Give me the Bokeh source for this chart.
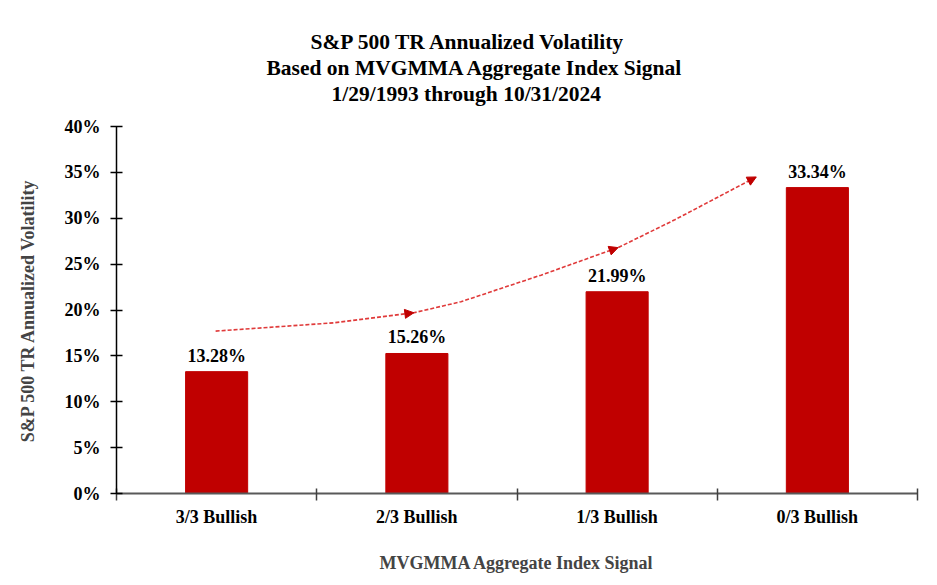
import bokeh.plotting
from bokeh.core.properties import value
from bokeh.embed import file_html
from bokeh.models import (Arrow, ColumnDataSource, FixedTicker, NormalHead,
                          PrintfTickFormatter, Range1d, Title)
from bokeh.resources import INLINE

# data
signals = ["3/3 Bullish", "2/3 Bullish", "1/3 Bullish", "0/3 Bullish"]
volatility = [13.28, 15.26, 21.99, 33.34]
vol_labels = ["13.28%", "15.26%", "21.99%", "33.34%"]
y_ticks = [0, 5, 10, 15, 20, 25, 30, 35, 40]

# dashed trend curve (category units, percent)
trend_x = [0.495, 1.085, 1.485, 1.72, 2.12, 2.505, 2.785, 3.195]
trend_y = [17.7, 18.6, 19.7, 20.9, 23.8, 26.8, 29.8, 34.5]
head_idx = [2, 5, 7]

title_lines = [
    "S&P 500 TR Annualized  Volatility",
    "Based on MVGMMA Aggregate  Index Signal",
    "1/29/1993 through  10/31/2024",
]

FONT = "Liberation Serif"
BAR = "#C00000"
TREND = "#E03A3A"

centers = [i + 0.5 for i in range(len(signals))]
src = ColumnDataSource(dict(x=centers, top=volatility, label=vol_labels))

p = bokeh.plotting.figure(
    width=921,
    height=575,
    x_range=Range1d(0, len(signals)),
    y_range=Range1d(0, 40),
    output_backend="svg",
    toolbar_location=None,
    title=None,
    min_border_left=116,
    min_border_right=4,
    min_border_bottom=81,
    min_border_top=126,
)
p.outline_line_color = None
p.xgrid.visible = False
p.ygrid.visible = False

# blank spacer between frame and title block
p.add_layout(Title(text=" ", text_font_size="1px", standoff=18), "above")

# title lines: left aligned with offsets so they sit centred on the figure
# (added bottom line first, the last one added is outermost)
for line, off in zip(reversed(title_lines), [215, 150, 194]):
    p.add_layout(
        Title(text=line, text_font=FONT, text_font_size="21.5px",
              text_font_style="bold", align="left", offset=off,
              standoff=0, text_color="black"),
        "above",
    )

p.vbar(source=src, x="x", top="top", width=0.31, fill_color=BAR, line_color=BAR)
p.text(source=src, x="x", y="top", text="label", text_align="center",
       text_baseline="bottom", y_offset=-6, text_font=value(FONT),
       text_font_size="18px", text_font_style="bold", text_color="black")

# trend curve with arrowheads
p.line(trend_x, trend_y, line_color=TREND, line_width=1.6, line_dash="4 2")
for i in head_idx:
    p.add_layout(Arrow(
        x_start=trend_x[i - 1], y_start=trend_y[i - 1],
        x_end=trend_x[i], y_end=trend_y[i],
        line_alpha=0,
        end=NormalHead(size=9, fill_color=BAR, line_color=BAR),
    ))

# x axis: labels at centers, ticks at category boundaries
xa = p.xaxis[0]
xa.ticker = FixedTicker(ticks=centers, minor_ticks=list(range(len(signals) + 1)))
xa.major_label_overrides = {c: s for c, s in zip(centers, signals)}
xa.major_tick_line_color = None
xa.minor_tick_in = 5
xa.minor_tick_out = 7
xa.minor_tick_line_color = "#404040"
xa.minor_tick_line_width = 1.5
xa.axis_line_color = "#595959"
xa.axis_line_width = 2
xa.major_label_standoff = 6
xa.major_label_text_font = FONT
xa.major_label_text_font_size = "18px"
xa.major_label_text_font_style = "bold"
xa.major_label_text_color = "black"
xa.axis_label = "MVGMMA Aggregate Index Signal"
xa.axis_label_text_font = FONT
xa.axis_label_text_font_size = "18px"
xa.axis_label_text_font_style = "bold"
xa.axis_label_standoff = 23

ya = p.yaxis[0]
ya.ticker = FixedTicker(ticks=y_ticks)
ya.formatter = PrintfTickFormatter(format="%d%%")
ya.minor_tick_line_color = None
ya.major_tick_in = 6
ya.major_tick_out = 6
ya.major_tick_line_width = 1.5
ya.axis_line_width = 1.5
ya.axis_line_color = "black"
ya.major_tick_line_color = "black"
ya.major_label_standoff = 10
ya.major_label_text_font = FONT
ya.major_label_text_font_size = "18px"
ya.major_label_text_font_style = "bold"
ya.major_label_text_color = "black"
ya.axis_label = "S&P 500 TR Annualized Volatility"
ya.axis_label_text_font = FONT
ya.axis_label_text_font_size = "18px"
ya.axis_label_text_font_style = "bold"
ya.axis_label_standoff = 24

open("out.html", "w").write(file_html(p, INLINE))
